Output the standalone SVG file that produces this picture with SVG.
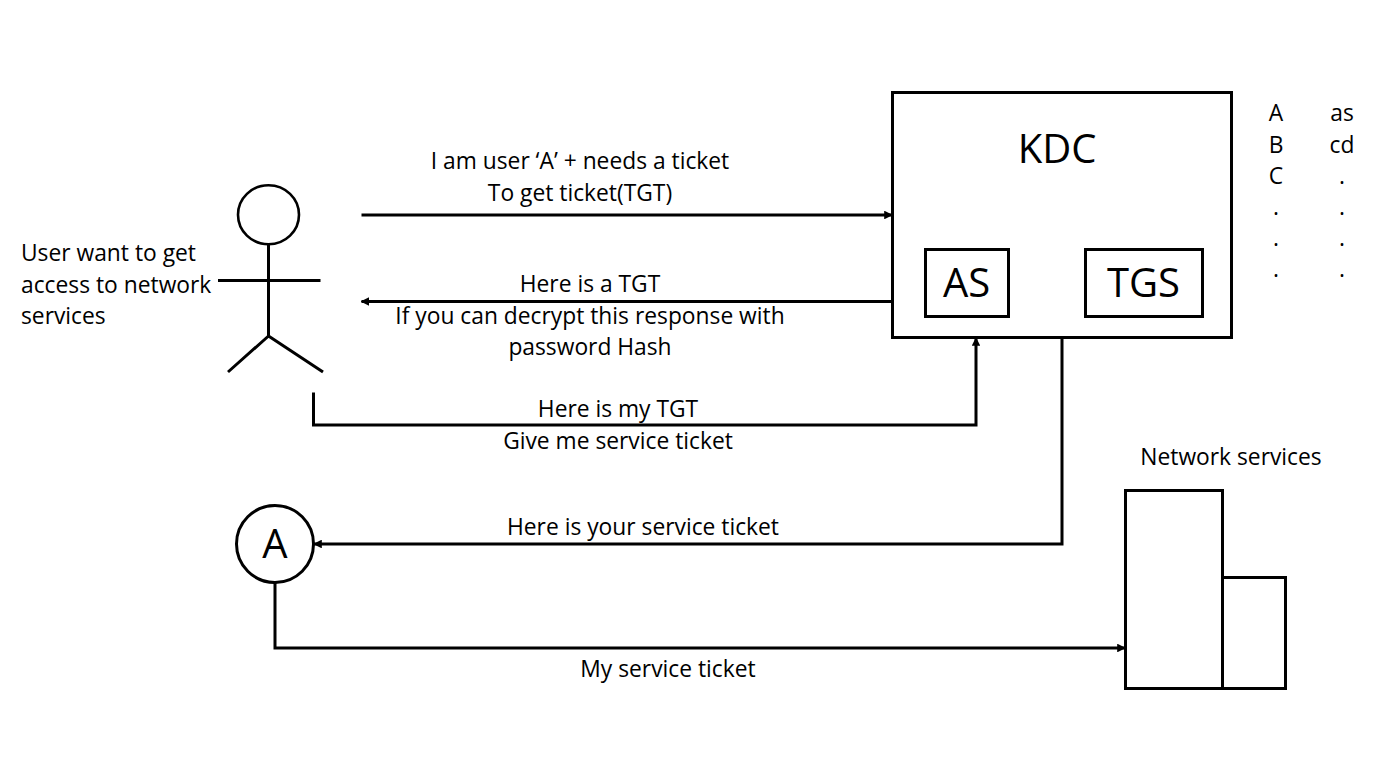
<svg xmlns="http://www.w3.org/2000/svg" width="1386" height="780" viewBox="0 0 1386 780">
<style>
text{font-family:"Open Sans","Noto Sans","Liberation Sans",sans-serif;fill:#000;text-anchor:middle}
.t{font-size:22.8px}
.m{font-size:40px}
.s{fill:#fff;stroke:#000;stroke-width:3}
.c{fill:none;stroke:#000;stroke-width:3;marker-end:url(#a)}
.p{fill:none;stroke:#000;stroke-width:3}
</style>
<defs><marker id="a" viewBox="0 0 10 10" refX="9" refY="5" markerWidth="2.9" markerHeight="2.9" orient="auto"><path d="M0 0L10 5L0 10z" fill="#000"/></marker></defs>
<rect width="1386" height="780" fill="#fff"/>
<g id="kdc"><rect class="s" x="892.500" y="92.500" width="339" height="245"/><text class="m" x="1057" y="163">KDC</text></g>
<g id="as"><rect class="s" x="925.500" y="249.500" width="83" height="67"/><text class="m" x="966.500" y="297">AS</text></g>
<g id="tgs"><rect class="s" x="1085.500" y="249.500" width="117" height="67"/><text class="m" x="1143.500" y="297">TGS</text></g>
<g id="user"><ellipse class="s" cx="268.500" cy="214.700" rx="30.500" ry="29.500" style="stroke-width:2.6"/><path class="p" d="M268.500 244V336M218 280.500H320.500M268.500 336L228 372M268.500 336L323 372"/></g>
<g id="user-a"><circle class="s" cx="275" cy="544" r="38.500"/><text class="m" x="275" y="558">A</text></g>
<g id="network-services"><rect class="s" x="1125.500" y="490.500" width="97" height="198"/><rect class="s" x="1222.500" y="577.500" width="63" height="111"/><text class="t" x="1231" y="465">Network services</text></g>
<g id="connectors">
<path class="c" d="M361.500 215H892"/>
<path class="c" d="M892 301.500H361.500"/>
<path class="c" d="M313.500 392.500V425H976V338"/>
<path class="c" d="M1062 338V544H314"/>
<path class="c" d="M275 583V648H1125"/>
</g>
<g id="labels">
<text class="t" x="580" y="169">I am user ‘A’ + needs a ticket</text>
<text class="t" x="580" y="201">To get ticket(TGT)</text>
<text class="t" x="590" y="292">Here is a TGT</text>
<text class="t" x="590" y="324">If you can decrypt this response with</text>
<text class="t" x="590" y="355">password Hash</text>
<text class="t" x="618" y="417">Here is my TGT</text>
<text class="t" x="618" y="449">Give me service ticket</text>
<text class="t" x="643" y="535">Here is your service ticket</text>
<text class="t" x="668" y="677">My service ticket</text>
<text class="t" x="21" y="261" style="text-anchor:start">User want to get</text>
<text class="t" x="21" y="293" style="text-anchor:start">access to network</text>
<text class="t" x="21" y="324" style="text-anchor:start">services</text>
</g>
<g id="table">
<text class="t" x="1276" y="121">A</text><text class="t" x="1342" y="121">as</text>
<text class="t" x="1276" y="153">B</text><text class="t" x="1342" y="153">cd</text>
<text class="t" x="1276" y="184">C</text><text class="t" x="1342" y="184">.</text>
<text class="t" x="1276" y="215">.</text><text class="t" x="1342" y="215">.</text>
<text class="t" x="1276" y="246">.</text><text class="t" x="1342" y="246">.</text>
<text class="t" x="1276" y="277">.</text><text class="t" x="1342" y="277">.</text>
</g>
</svg>
